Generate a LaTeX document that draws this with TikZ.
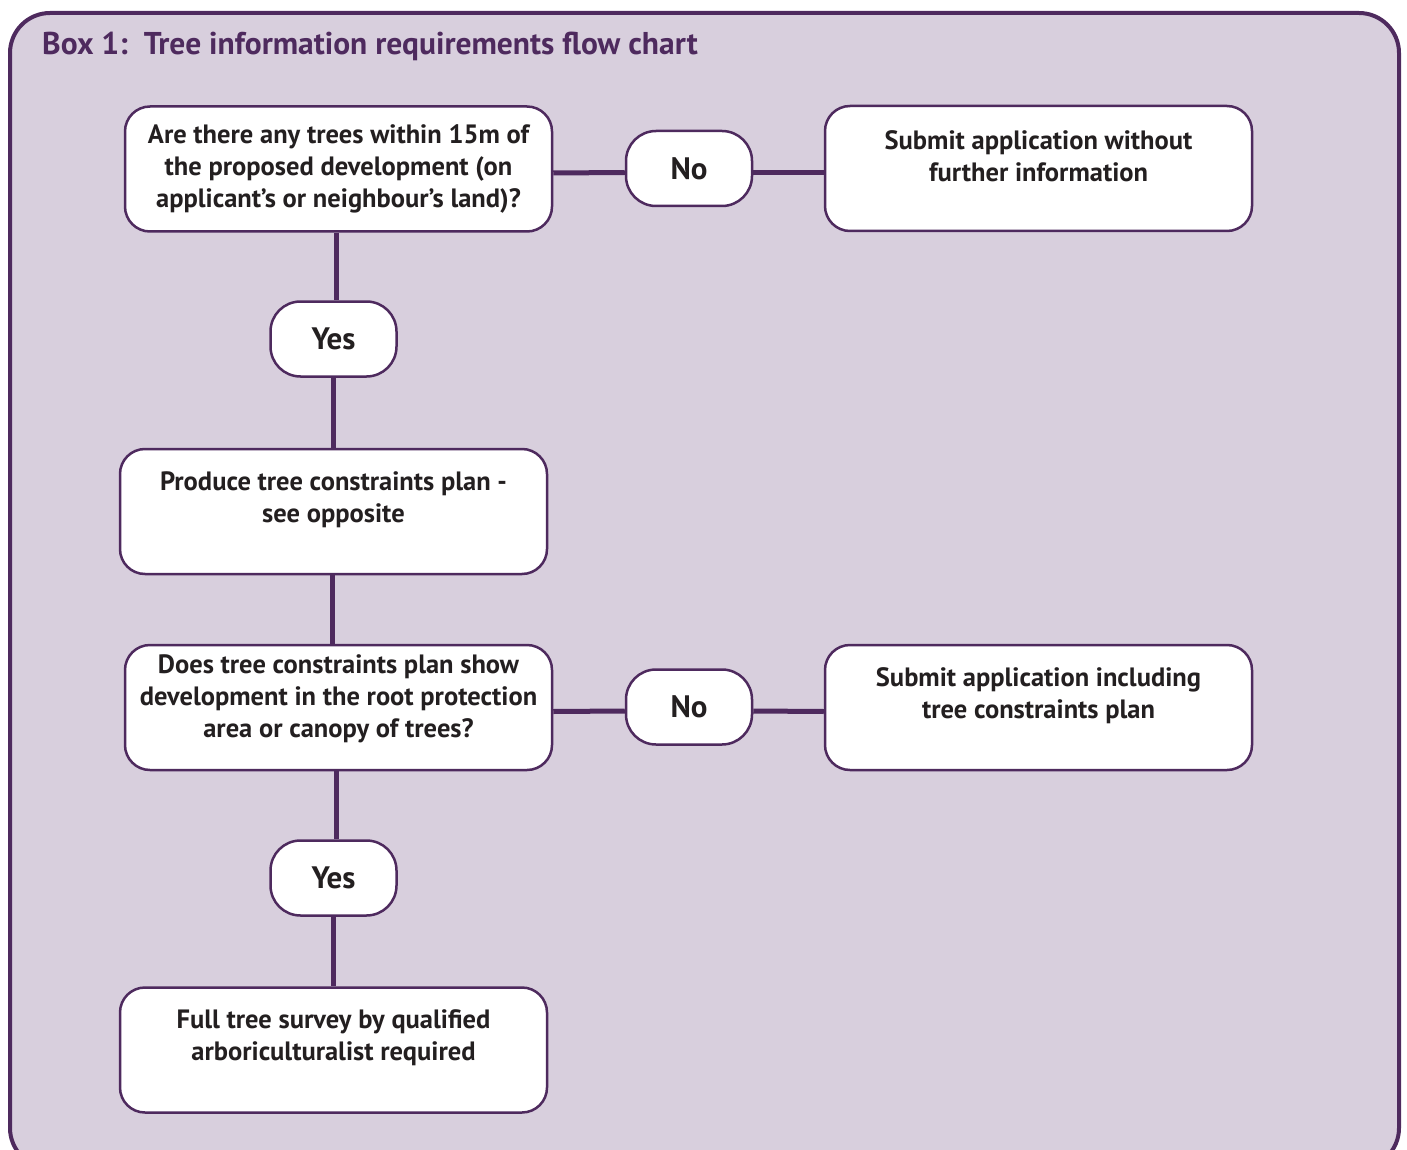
\documentclass[tikz,border=0pt]{standalone}
\usepackage{fontspec}
\setmainfont{PT Sans}
\definecolor{boxpurple}{HTML}{4E2A5E}
\definecolor{boxlilac}{HTML}{D8CFDD}
\definecolor{boxink}{HTML}{231F20}
\tikzset{
  chartbox/.style={draw=boxpurple, line width=2.5, fill=white, rounded corners=25,
    minimum width=427, minimum height=125, inner sep=0},
  answer/.style={chartbox, minimum width=126, minimum height=75, rounded corners=30,
    font=\fontsize{31}{36}\selectfont\bfseries},
  boxtext/.style={align=center, text=boxink, inner sep=0,
    font=\fontsize{26.5}{32}\selectfont\bfseries},
  link/.style={draw=boxpurple, line width=5}
}
\begin{document}
\begin{tikzpicture}[x=1pt,y=-1pt]
  \useasboundingbox (0,0) rectangle (1407,1150);
  % outer frame
  \draw[draw=boxpurple, fill=boxlilac, line width=4, rounded corners=40] (10,13) rectangle (1399,1168);
  \node[anchor=base west, text=boxpurple, inner sep=0, font=\fontsize{31.5}{36}\selectfont\bfseries] (title) at (42,55) {Box 1:\ \ Tree information requirements flow chart};
  % first question
  \node[chartbox, boxtext] (q1) at (338.5,169) {Are there any trees within 15m of\\the proposed development (on\\applicant’s or neighbour’s land)?};
  \node[boxtext, answer] (no1) at (689,168.5) {No};
  \node[chartbox] (s1) at (1038.5,168.5) {};
  \node[boxtext] (s1t) at ([yshift=12]s1.center) {Submit application without\\further information};
  \node[boxtext, answer] (yes1) at (333.5,339) {Yes};
  \node[chartbox] (plan) at (333.5,511.5) {};
  \node[boxtext] (plant) at ([yshift=12]plan.center) {Produce tree constraints plan -\\see opposite};
  % second question
  \node[chartbox] (q2) at (338.5,707.5) {};
  \node[boxtext] (q2t) at ([yshift=9]q2.center) {Does tree constraints plan show\\development in the root protection\\area or canopy of trees?};
  \node[boxtext, answer] (no2) at (689,707) {No};
  \node[chartbox] (s2) at (1038.5,707.5) {};
  \node[boxtext] (s2t) at ([yshift=12]s2.center) {Submit application including\\tree constraints plan};
  \node[boxtext, answer] (yes2) at (333.5,878) {Yes};
  \node[chartbox] (survey) at (333.5,1050) {};
  \node[boxtext] (surveyt) at ([yshift=12]survey.center) {Full tree survey by qualified\\arboriculturalist required};
  % connectors
  \draw[link] ([yshift=-4]q1.east) -- ([yshift=-4]no1.west);
  \draw[link] ([yshift=-4]no1.east) -- ([yshift=-4]s1.west);
  \draw[link] ([yshift=-4]q2.east) -- ([yshift=-4]no2.west);
  \draw[link] ([yshift=-4]no2.east) -- ([yshift=-4]s2.west);
  \draw[link] ([xshift=-2.5]q1.south) -- ([xshift=-2.5]q1.south |- yes1.north);
  \draw[link] (yes1.south) -- (plan.north);
  \draw[link] ([xshift=-1.5]plan.south) -- ([xshift=-1.5]plan.south |- q2.north);
  \draw[link] ([xshift=-2.5]q2.south) -- ([xshift=-2.5]q2.south |- yes2.north);
  \draw[link] (yes2.south) -- (survey.north);
\end{tikzpicture}
\end{document}
